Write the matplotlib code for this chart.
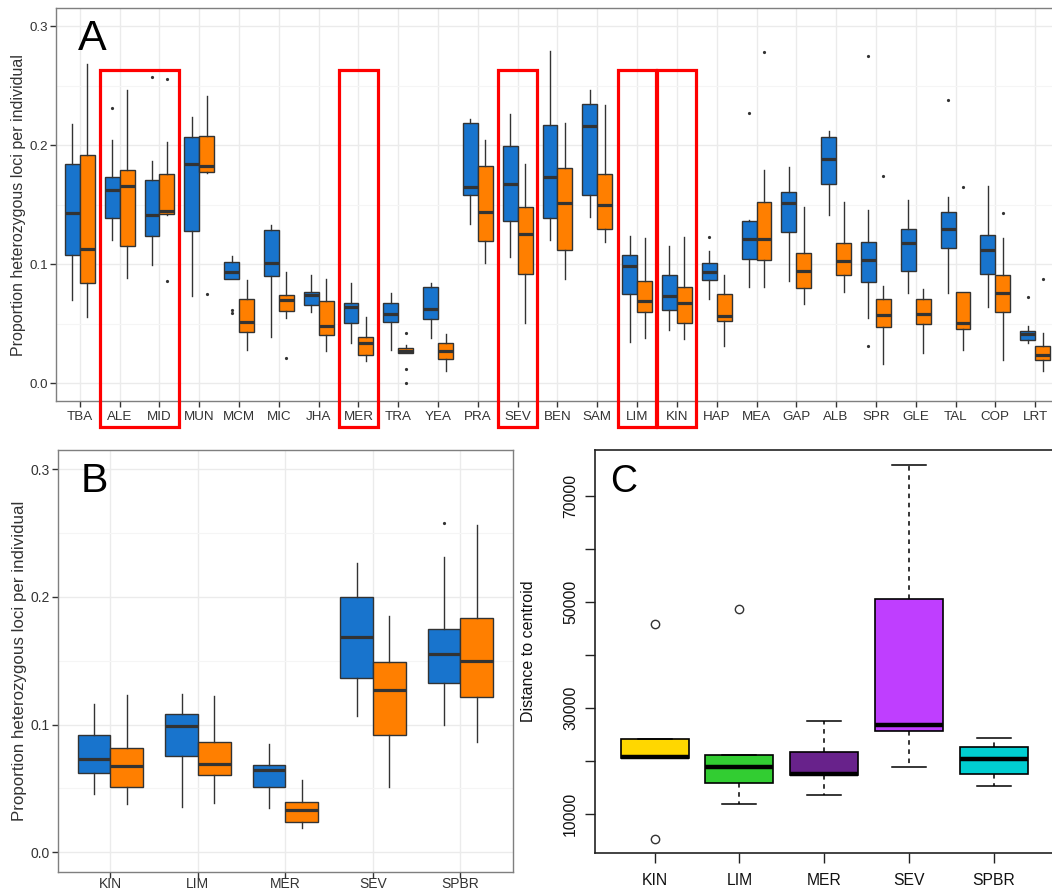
import matplotlib
matplotlib.use('Agg')
import matplotlib.pyplot as plt
from matplotlib.patches import Rectangle

plt.rcParams['font.family'] = ['Liberation Sans', 'DejaVu Sans']

# Panel A: proportion of heterozygous loci per individual, two marker sets per population
pops = ['TBA', 'ALE', 'MID', 'MUN', 'MCM', 'MIC', 'JHA', 'MER', 'TRA', 'YEA', 'PRA', 'SEV', 'BEN',
        'SAM', 'LIM', 'KIN', 'HAP', 'MEA', 'GAP', 'ALB', 'SPR', 'GLE', 'TAL', 'COP', 'LRT']

set1_lo = [0.070, 0.120, 0.099, 0.073, 0.0878, 0.0386, 0.060, 0.0341, 0.028, 0.0377, 0.1336, 0.1062, 0.1202,
           0.1398, 0.0344, 0.0447, 0.0707, 0.0811, 0.0858, 0.1412, 0.0545, 0.0755, 0.0755, 0.0643, 0.0335]
set1_q1 = [0.108, 0.139, 0.124, 0.1275, 0.0878, 0.0897, 0.0657, 0.0503, 0.0514, 0.0537, 0.1585, 0.1364, 0.1384,
           0.1585, 0.0749, 0.0615, 0.0864, 0.1046, 0.1272, 0.1677, 0.0847, 0.0945, 0.1138, 0.0917, 0.0363]
set1_med = [0.143, 0.162, 0.141, 0.184, 0.0937, 0.1006, 0.0744, 0.0637, 0.0579, 0.062, 0.165, 0.1677, 0.1733,
            0.2158, 0.0987, 0.0732, 0.0931, 0.1213, 0.1512, 0.1887, 0.1032, 0.1177, 0.1297, 0.1118, 0.0411]
set1_q3 = [0.184, 0.173, 0.171, 0.2066, 0.1015, 0.1286, 0.0766, 0.0677, 0.0677, 0.0805, 0.2186, 0.1993, 0.2167,
           0.2348, 0.1079, 0.0906, 0.1006, 0.1364, 0.161, 0.2066, 0.1185, 0.1297, 0.1437, 0.1247, 0.0439]
set1_hi = [0.218, 0.204, 0.187, 0.224, 0.1068, 0.1325, 0.091, 0.0844, 0.0755, 0.0844, 0.2222, 0.2259, 0.279,
           0.246, 0.1236, 0.1155, 0.111, 0.137, 0.1817, 0.2119, 0.1454, 0.1538, 0.1566, 0.1655, 0.0481]
set1_out = [[], [0.231], [0.257], [], [0.0615, 0.0587], [], [], [], [], [], [], [], [],
            [], [], [], [0.1227], [0.2267], [], [], [0.2751, 0.0316], [], [0.2382], [], [0.0727]]

set2_lo = [0.056, 0.088, 0.141, 0.177, 0.028, 0.0545, 0.0274, 0.0185, 0.0252, 0.0098, 0.1006, 0.0503, 0.0878,
           0.1183, 0.0377, 0.0369, 0.0308, 0.0811, 0.0663, 0.0766, 0.0157, 0.0257, 0.028, 0.0196, 0.0098]
set2_q1 = [0.084, 0.1155, 0.142, 0.1775, 0.0428, 0.061, 0.0405, 0.0238, 0.0252, 0.0204, 0.1194, 0.0914, 0.1118,
           0.1292, 0.0598, 0.0509, 0.0526, 0.1034, 0.0797, 0.0911, 0.047, 0.0495, 0.0453, 0.0601, 0.0196]
set2_med = [0.113, 0.1655, 0.145, 0.1826, 0.0517, 0.0702, 0.0484, 0.0335, 0.0271, 0.0274, 0.1437, 0.1252, 0.1518,
            0.1498, 0.0693, 0.0677, 0.0568, 0.1213, 0.0939, 0.1026, 0.057, 0.0579, 0.0509, 0.0755, 0.0238]
set2_q3 = [0.192, 0.179, 0.1755, 0.2077, 0.0705, 0.0744, 0.0693, 0.0386, 0.0294, 0.0341, 0.1826, 0.1482, 0.1809,
           0.1756, 0.0861, 0.0811, 0.0746, 0.1521, 0.1096, 0.1177, 0.071, 0.0705, 0.0766, 0.0911, 0.0316]
set2_hi = [0.268, 0.246, 0.203, 0.241, 0.0867, 0.0937, 0.0872, 0.0554, 0.032, 0.0414, 0.2046, 0.1845, 0.2186,
           0.234, 0.1219, 0.123, 0.0906, 0.1795, 0.1482, 0.1521, 0.0816, 0.0794, 0.0766, 0.1219, 0.0425]
set2_out = [[], [], [0.2555, 0.086], [0.0746], [], [0.0215], [], [], [0.042, 0.0117, 0.0], [], [], [], [],
            [], [], [], [], [0.2779], [], [], [0.1739], [], [0.1647], [0.1429], [0.0878]]

# population groups outlined in panel A
highlight = [('ALE', 'MID'), ('MER', 'MER'), ('SEV', 'SEV'), ('LIM', 'LIM'), ('KIN', 'KIN')]

# Panel B: subset of populations
pops_b = ['KIN', 'LIM', 'MER', 'SEV', 'SPBR']
b1_lo = [0.0453, 0.0352, 0.0344, 0.1065, 0.0995]
b1_q1 = [0.0622, 0.0753, 0.0508, 0.1365, 0.1326]
b1_med = [0.0732, 0.099, 0.0643, 0.1685, 0.1555]
b1_q3 = [0.0917, 0.1081, 0.0682, 0.1997, 0.175]
b1_hi = [0.1159, 0.1242, 0.0852, 0.2263, 0.2315]
b1_out = [[], [], [], [], [0.2578]]
b2_lo = [0.0375, 0.0383, 0.0193, 0.0513, 0.0865]
b2_q1 = [0.0508, 0.0602, 0.024, 0.0919, 0.1214]
b2_med = [0.0677, 0.0695, 0.0331, 0.1268, 0.1495]
b2_q3 = [0.0813, 0.0865, 0.0391, 0.1492, 0.1833]
b2_hi = [0.1229, 0.1221, 0.0565, 0.1854, 0.2565]
b2_out = [[], [], [], [], []]

# Panel C: distance to centroid
pops_c = ['KIN', 'LIM', 'MER', 'SEV', 'SPBR']
dist_lo = [20493, 11822, 13581, 18922, 15278]
dist_q1 = [20493, 15843, 17288, 25582, 17602]
dist_med = [20807, 18796, 17540, 26776, 20367]
dist_q3 = [24137, 21058, 21623, 50525, 22566]
dist_hi = [24137, 21058, 27530, 75783, 24262]
dist_out = [[45813, 5288], [48703], [], [], []]
colors_c = ['#FFD700', '#32CD32', '#68228B', '#BF3EFF', '#00CED1']

BLUE = '#1874CD'
ORANGE = '#FF7F00'
DARK = '#333333'
W, H = 1052, 892


def px_axes(fig, left, top, right, bottom):
    return fig.add_axes([left / W, 1 - bottom / H, (right - left) / W, (bottom - top) / H])


def make_stats(lo, q1, med, q3, hi, out):
    return [dict(whislo=a, q1=b, med=c, q3=d, whishi=e, fliers=f)
            for a, b, c, d, e, f in zip(lo, q1, med, q3, hi, out)]


def gg_boxes(ax, positions, stats, color, width):
    ax.bxp(stats, positions=positions, widths=width, patch_artist=True, showcaps=False,
           manage_ticks=False,
           boxprops=dict(facecolor=color, edgecolor=DARK, linewidth=1.0),
           medianprops=dict(color=DARK, linewidth=2.3, solid_capstyle='butt'),
           whiskerprops=dict(color=DARK, linewidth=1.0),
           flierprops=dict(marker='o', markersize=2.3, markerfacecolor=DARK,
                           markeredgecolor=DARK, markeredgewidth=0))


def gg_theme(ax, labels, fontsize, xpad):
    ax.set_facecolor('white')
    ax.set_axisbelow(True)
    ax.set_xticks(range(1, len(labels) + 1))
    ax.set_xticklabels(labels)
    ax.set_xlim(0.4, len(labels) + 0.6)
    ax.set_ylim(-0.015, 0.315)
    ax.set_yticks([0.0, 0.1, 0.2, 0.3])
    ax.set_yticklabels(['0.0', '0.1', '0.2', '0.3'])
    ax.set_yticks([0.05, 0.15, 0.25], minor=True)
    ax.grid(which='major', color='#ebebeb', linewidth=1.0)
    ax.grid(which='minor', axis='y', color='#f5f5f5', linewidth=0.8)
    ax.tick_params(which='major', length=4, width=1, color=DARK, labelcolor=DARK,
                   labelsize=fontsize)
    ax.tick_params(axis='x', pad=xpad)
    ax.tick_params(axis='y', pad=2)
    ax.tick_params(which='minor', length=0)
    for s in ax.spines.values():
        s.set_color('#7f7f7f')
        s.set_linewidth(1.0)


fig = plt.figure(figsize=(W / 100, H / 100), dpi=100)

# ---- A ----
ax_a = px_axes(fig, 56, 8.3, 1059, 401)
xa = list(range(1, len(pops) + 1))
gg_boxes(ax_a, [x - 0.1875 for x in xa],
         make_stats(set1_lo, set1_q1, set1_med, set1_q3, set1_hi, set1_out), BLUE, 0.375)
gg_boxes(ax_a, [x + 0.1875 for x in xa],
         make_stats(set2_lo, set2_q1, set2_med, set2_q3, set2_hi, set2_out), ORANGE, 0.375)
gg_theme(ax_a, pops, 9.6, 3)
ax_a.set_ylabel('Proportion heterozygous loci per individual', fontsize=11.5, color=DARK, va='center')
ax_a.yaxis.set_label_coords(-0.0369, 0.5)
ax_a.text(0.022, 0.894, 'A', transform=ax_a.transAxes, fontsize=31, ha='left', va='baseline')

for first, last in highlight:
    x0 = pops.index(first) + 1 - 0.49
    x1 = pops.index(last) + 1 + 0.48
    ax_a.add_patch(Rectangle((x0, -0.037), x1 - x0, 0.263 + 0.037, fill=False,
                             edgecolor='#FF0000', linewidth=2.3, clip_on=False, zorder=10))

# ---- B ----
ax_b = px_axes(fig, 57.9, 450, 513, 871.5)
xb = list(range(1, len(pops_b) + 1))
gg_boxes(ax_b, [x - 0.1875 for x in xb],
         make_stats(b1_lo, b1_q1, b1_med, b1_q3, b1_hi, b1_out), BLUE, 0.375)
gg_boxes(ax_b, [x + 0.1875 for x in xb],
         make_stats(b2_lo, b2_q1, b2_med, b2_q3, b2_hi, b2_out), ORANGE, 0.375)
gg_theme(ax_b, pops_b, 10.0, 0.3)
ax_b.set_ylabel('Proportion heterozygous loci per individual', fontsize=12.2, color=DARK, va='center')
ax_b.yaxis.set_label_coords(-0.0842, 0.5)
ax_b.text(0.049, 0.900, 'B', transform=ax_b.transAxes, fontsize=29.5, ha='left', va='baseline')

# ---- C ----
ax_c = px_axes(fig, 595.3, 450, 1053, 853.3)
xc = list(range(1, len(pops_c) + 1))
res = ax_c.bxp(make_stats(dist_lo, dist_q1, dist_med, dist_q3, dist_hi, dist_out),
               positions=xc, widths=0.8, patch_artist=True, showcaps=True, capwidths=0.4,
               manage_ticks=False,
               boxprops=dict(edgecolor='black', linewidth=1.2),
               medianprops=dict(color='black', linewidth=3.2, solid_capstyle='butt'),
               whiskerprops=dict(color='black', linewidth=1.1, linestyle=(0, (3, 3))),
               capprops=dict(color='black', linewidth=1.1),
               flierprops=dict(marker='o', markersize=6, markerfacecolor='none',
                               markeredgecolor='#333333', markeredgewidth=1.0))
for box, c in zip(res['boxes'], colors_c):
    box.set_facecolor(c)

ax_c.set_xlim(0.3, 5.7)
ax_c.set_ylim(2600, 78600)
ax_c.set_xticks(xc)
ax_c.set_xticklabels(pops_c)
ax_c.set_yticks([10000, 20000, 30000, 40000, 50000, 60000, 70000])
ax_c.set_yticklabels(['10000', '', '30000', '', '50000', '', '70000'])
ax_c.tick_params(length=7.5, width=1, color='#222222', labelsize=11.3, labelcolor='#111111')
ax_c.tick_params(axis='x', pad=6.5)
ax_c.tick_params(axis='y', pad=5)
plt.setp(ax_c.get_yticklabels(), rotation=90, va='center')
for s in ax_c.spines.values():
    s.set_color('#222222')
    s.set_linewidth(1.2)
ax_c.set_ylabel('Distance to centroid', fontsize=11.5, color='#111111', va='center')
ax_c.yaxis.set_label_coords(-0.1463, 0.5)
ax_c.text(0.032, 0.896, 'C', transform=ax_c.transAxes, fontsize=27, ha='left', va='baseline')

fig.savefig('out.png', dpi=100)
